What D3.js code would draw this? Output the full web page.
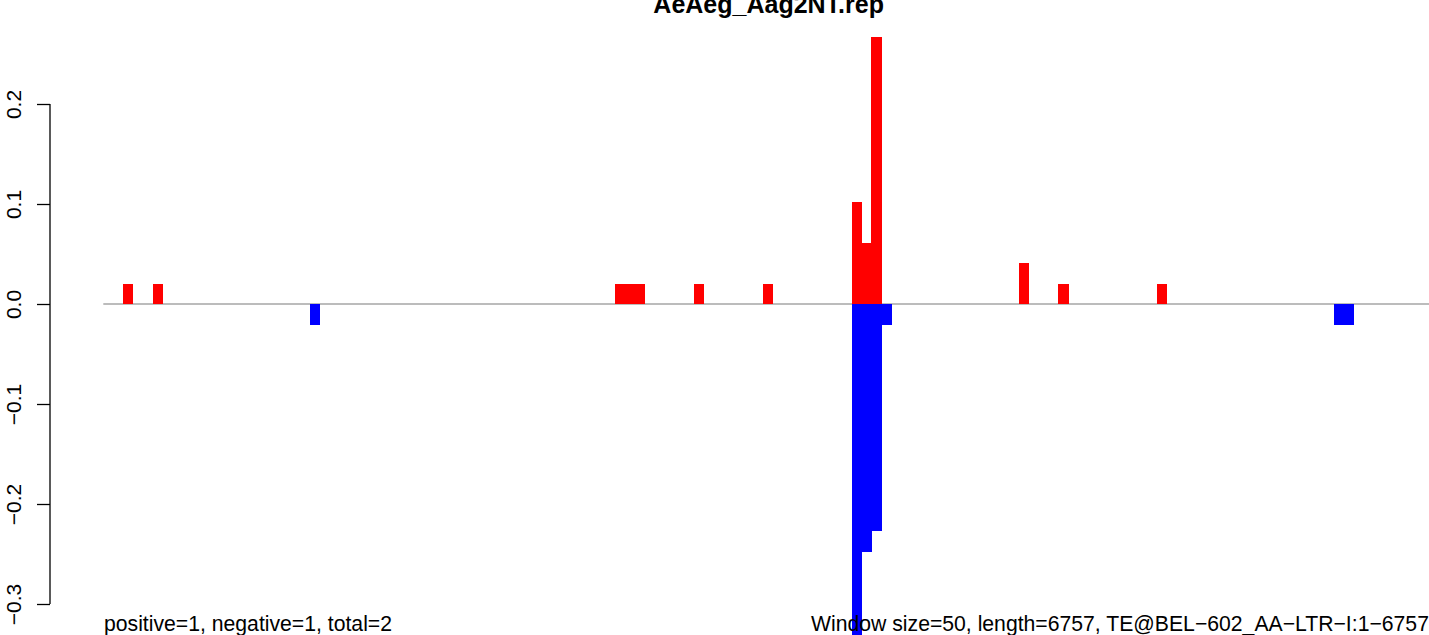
<!DOCTYPE html>
<html>
<head>
<meta charset="utf-8">
<script src="https://cdn.jsdelivr.net/npm/d3@7/dist/d3.min.js"></script>
<style>
  html, body { margin: 0; padding: 0; background: #ffffff; }
  svg { display: block; }
  text { font-family: "Liberation Sans", Arial, Helvetica, sans-serif; }
</style>
</head>
<body>
<svg id="chart" width="1429" height="635"></svg>
<script>
// ---- data ----
const titleText = "AeAeg_Aag2NT.rep";
const windowSize = 50;
const seqLength = 6757;
const posBins = [2, 5, 52, 53, 54, 60, 67, 76, 77, 78, 93, 97, 107];
const posValues = [0.0205, 0.0205, 0.0205, 0.0205, 0.0205, 0.0205, 0.0205, 0.102, 0.061, 0.267, 0.041, 0.0205, 0.0205];
const negBins = [21, 76, 77, 78, 79, 125, 126];
const negValues = [-0.0205, -0.35, -0.248, -0.227, -0.0205, -0.0205, -0.0205];
const yTicks = [-0.3, -0.2, -0.1, 0.0, 0.1, 0.2];
const leftNote = "positive=1, negative=1, total=2";
const rightNote = "Window size=50, length=6757, TE@BEL\u2212602_AA\u2212LTR\u2212I:1\u22126757";

// ---- layout ----
const svg = d3.select("#chart");
const plotLeft = 103.3, plotRight = 1434;
const x = d3.scaleLinear().domain([0, seqLength]).range([plotLeft, plotRight]);
const y = d3.scaleLinear().domain([-0.3, 0.2]).range([604, 104]);

// zero line
svg.append("line")
  .attr("x1", plotLeft).attr("x2", 1429)
  .attr("y1", y(0)).attr("y2", y(0))
  .attr("stroke", "#a6a6a6").attr("stroke-width", 1.6);

const pos = posBins.map((b, i) => ({b, v: posValues[i]}));
const neg = negBins.map((b, i) => ({b, v: negValues[i]}));

svg.append("g").attr("shape-rendering", "crispEdges").selectAll("rect").data(pos).join("rect")
  .attr("x", d => x(d.b * windowSize))
  .attr("width", d => x((d.b + 1) * windowSize) - x(d.b * windowSize) + 0.5)
  .attr("y", d => y(d.v))
  .attr("height", d => y(0) - y(d.v))
  .attr("fill", "#ff0000");

svg.append("g").attr("shape-rendering", "crispEdges").selectAll("rect").data(neg).join("rect")
  .attr("x", d => x(d.b * windowSize))
  .attr("width", d => x((d.b + 1) * windowSize) - x(d.b * windowSize) + 0.5)
  .attr("y", y(0))
  .attr("height", d => y(d.v) - y(0))
  .attr("fill", "#0000ff");

// y axis
const yAxis = d3.axisLeft(y).tickValues(yTicks).tickSize(13).tickPadding(0)
  .tickFormat(d => d3.format(".1f")(d).replace("-", "\u2212"));
const ag = svg.append("g").attr("transform", "translate(50,0)").call(yAxis);
ag.select(".domain").attr("d", `M0,${y(0.2)}V${y(-0.3)}`).attr("stroke", "#000").attr("stroke-width", 1.3);
ag.selectAll(".tick line").attr("stroke", "#000").attr("stroke-width", 1.3);
ag.selectAll(".tick text")
  .attr("font-size", 21)
  .attr("fill", "#000")
  .attr("x", null).attr("dy", null)
  .attr("text-anchor", "middle")
  .attr("transform", "translate(-29,0) rotate(-90)");

// title
svg.append("text")
  .attr("x", (plotLeft + plotRight) / 2).attr("y", 13)
  .attr("text-anchor", "middle")
  .attr("font-size", 25).attr("font-weight", "bold")
  .text(titleText);

// bottom notes
svg.append("text")
  .attr("x", 104).attr("y", 631)
  .attr("font-size", 21.2)
  .text(leftNote);
svg.append("text")
  .attr("x", 811).attr("y", 631)
  .attr("font-size", 21.2)
  .text(rightNote);
</script>
</body>
</html>
